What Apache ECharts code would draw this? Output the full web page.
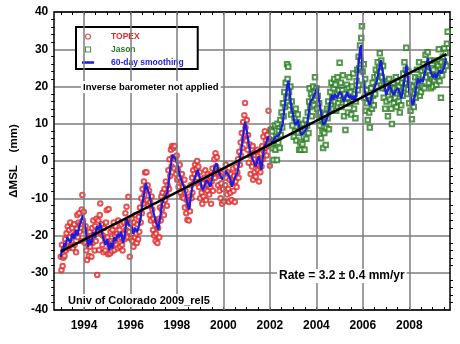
<!DOCTYPE html>
<html>
<head>
<meta charset="UTF-8">
<script src="https://cdn.jsdelivr.net/npm/echarts@6/dist/echarts.min.js"></script>
<title>Mean sea level</title>
<style type="text/css">
body{margin:0;padding:0;background:#fff;}
#chart{width:460px;height:344px;}
</style>
</head>
<body>
<div id="chart"></div>
<script type="text/javascript">
// TOPEX cycles [year, mm]
var topex = [
[1993.00,-25.7],[1993.03,-29.3],[1993.05,-22.5],[1993.08,-28.2],[1993.11,-26.0],[1993.14,-23.5],[1993.16,-25.5],[1993.19,-21.0],
[1993.22,-24.0],[1993.25,-19.4],[1993.27,-22.8],[1993.30,-17.6],[1993.33,-23.4],[1993.36,-18.5],[1993.38,-20.5],[1993.41,-16.5],
[1993.44,-23.0],[1993.47,-21.8],[1993.49,-18.0],[1993.52,-23.4],[1993.55,-20.0],[1993.58,-17.0],[1993.60,-22.5],[1993.63,-19.5],
[1993.66,-24.5],[1993.69,-18.2],[1993.71,-14.5],[1993.74,-20.5],[1993.77,-16.5],[1993.79,-14.0],[1993.82,-19.0],[1993.85,-17.0],
[1993.88,-21.5],[1993.90,-13.0],[1993.93,-9.1],[1993.96,-16.0],[1993.99,-13.6],[1994.02,-18.5],[1994.04,-22.0],[1994.07,-17.5],
[1994.10,-24.0],[1994.13,-26.6],[1994.15,-20.5],[1994.18,-22.5],[1994.21,-25.5],[1994.24,-19.0],[1994.26,-23.0],[1994.29,-21.5],
[1994.32,-25.7],[1994.35,-18.0],[1994.37,-22.0],[1994.40,-16.0],[1994.43,-20.0],[1994.46,-24.0],[1994.48,-17.5],[1994.51,-21.5],
[1994.54,-15.5],[1994.57,-30.6],[1994.59,-19.0],[1994.62,-16.0],[1994.65,-23.9],[1994.68,-14.5],[1994.70,-11.4],[1994.73,-19.5],
[1994.76,-17.0],[1994.79,-22.5],[1994.81,-20.0],[1994.84,-24.5],[1994.87,-18.0],[1994.90,-21.0],[1994.92,-24.0],[1994.95,-16.5],
[1994.98,-13.2],[1995.01,-20.5],[1995.04,-25.0],[1995.06,-12.9],[1995.09,-22.5],[1995.12,-24.8],[1995.14,-19.0],[1995.17,-21.5],
[1995.20,-24.2],[1995.23,-18.5],[1995.25,-22.0],[1995.28,-16.5],[1995.31,-23.9],[1995.34,-20.0],[1995.36,-17.5],[1995.39,-22.5],
[1995.42,-19.5],[1995.45,-23.4],[1995.47,-16.0],[1995.50,-21.0],[1995.53,-18.5],[1995.55,-23.0],[1995.58,-20.5],[1995.61,-17.0],
[1995.64,-22.5],[1995.66,-24.0],[1995.69,-19.5],[1995.72,-16.5],[1995.75,-21.0],[1995.78,-14.0],[1995.80,-18.5],[1995.83,-12.3],
[1995.86,-16.5],[1995.88,-20.5],[1995.91,-9.6],[1995.94,-19.0],[1995.97,-25.7],[1996.00,-17.0],[1996.02,-20.8],[1996.05,-15.5],
[1996.08,-21.5],[1996.11,-18.5],[1996.13,-23.0],[1996.16,-16.5],[1996.19,-20.5],[1996.22,-14.5],[1996.24,-19.5],[1996.27,-22.0],
[1996.30,-17.0],[1996.33,-21.0],[1996.36,-15.0],[1996.38,-19.0],[1996.41,-12.5],[1996.44,-16.5],[1996.47,-10.0],[1996.49,-14.0],
[1996.52,-7.5],[1996.55,-11.5],[1996.58,-5.5],[1996.60,-9.0],[1996.63,-3.1],[1996.66,-7.0],[1996.69,-3.0],[1996.72,-10.5],
[1996.74,-6.5],[1996.77,-12.0],[1996.80,-8.0],[1996.83,-14.5],[1996.85,-11.0],[1996.88,-16.0],[1996.91,-9.5],[1996.94,-13.0],
[1996.97,-18.5],[1996.99,-15.5],[1997.02,-20.0],[1997.05,-17.0],[1997.08,-21.5],[1997.10,-19.5],[1997.13,-16.0],[1997.16,-22.0],
[1997.19,-18.0],[1997.22,-15.5],[1997.24,-20.5],[1997.27,-12.5],[1997.30,-16.0],[1997.33,-9.5],[1997.35,-13.0],[1997.38,-8.5],
[1997.41,-11.5],[1997.44,-14.5],[1997.46,-7.5],[1997.49,-10.5],[1997.52,-5.5],[1997.55,-9.0],[1997.57,-12.0],[1997.60,-6.5],
[1997.63,-2.5],[1997.66,-7.5],[1997.68,0.5],[1997.71,-4.0],[1997.74,3.0],[1997.77,-1.5],[1997.79,4.0],[1997.82,1.0],
[1997.85,3.5],[1997.88,-2.0],[1997.90,4.0],[1997.93,0.5],[1997.96,-3.5],[1997.99,1.5],[1998.01,-5.0],[1998.04,-2.5],
[1998.07,-7.0],[1998.10,-4.5],[1998.12,-1.0],[1998.15,-8.5],[1998.18,-5.5],[1998.21,-3.5],[1998.23,-9.5],[1998.26,-7.0],
[1998.29,-10.0],[1998.32,-5.0],[1998.34,-12.5],[1998.37,-8.0],[1998.40,-14.0],[1998.43,-10.5],[1998.45,-15.8],[1998.48,-12.0],
[1998.51,-16.0],[1998.54,-9.5],[1998.56,-13.5],[1998.59,-6.5],[1998.62,-10.0],[1998.65,-4.5],[1998.67,-8.5],[1998.70,-2.5],
[1998.73,-6.0],[1998.76,-3.5],[1998.78,-1.0],[1998.81,-5.5],[1998.84,-2.0],[1998.87,0.0],[1998.89,-4.5],[1998.92,-1.5],
[1998.95,-7.0],[1998.98,-3.0],[1999.00,-10.0],[1999.03,-5.5],[1999.06,-8.5],[1999.09,-11.5],[1999.11,-6.0],[1999.14,-9.5],
[1999.17,-4.5],[1999.20,-7.5],[1999.22,-2.5],[1999.25,-10.5],[1999.28,-5.0],[1999.31,-8.0],[1999.33,-3.5],[1999.36,-6.5],
[1999.39,-9.0],[1999.42,-4.0],[1999.44,-7.0],[1999.47,-11.5],[1999.50,-5.5],[1999.53,-2.0],[1999.55,-8.0],[1999.58,-3.5],
[1999.61,0.5],[1999.64,-4.5],[1999.66,2.1],[1999.69,-1.5],[1999.72,1.0],[1999.75,-3.0],[1999.77,-6.5],[1999.80,-2.5],
[1999.83,-8.0],[1999.86,-4.0],[1999.88,-10.0],[1999.91,-6.0],[1999.94,-11.5],[1999.97,-3.0],[1999.99,-7.5],[2000.02,-10.9],
[2000.05,-2.5],[2000.08,-6.5],[2000.10,-1.0],[2000.13,-4.5],[2000.16,-9.0],[2000.19,-3.0],[2000.21,-7.5],[2000.24,-11.0],
[2000.27,-5.0],[2000.30,-8.5],[2000.32,-3.5],[2000.35,-10.5],[2000.38,-6.0],[2000.41,-2.0],[2000.43,-8.0],[2000.46,-4.0],
[2000.49,-11.0],[2000.52,-5.5],[2000.54,-1.5],[2000.57,-7.0],[2000.60,-3.0],[2000.63,0.5],[2000.65,-4.5],[2000.68,2.5],
[2000.71,-1.0],[2000.74,5.0],[2000.76,1.5],[2000.79,7.5],[2000.82,3.5],[2000.85,10.5],[2000.87,6.0],[2000.90,12.3],
[2000.93,15.6],[2000.95,9.0],[2000.98,5.5],[2001.01,11.0],[2001.04,3.0],[2001.06,7.0],[2001.09,-0.5],[2001.12,4.5],
[2001.15,1.5],[2001.17,-3.5],[2001.20,2.0],[2001.23,-1.5],[2001.26,4.0],[2001.28,-5.0],[2001.31,0.5],[2001.34,-3.0],
[2001.37,2.5],[2001.39,-4.2],[2001.42,-1.0],[2001.45,3.0],[2001.48,-2.5],[2001.50,1.5],[2001.53,-5.5],[2001.56,0.0],
[2001.59,-3.0],[2001.61,2.0],[2001.64,-1.5],[2001.67,4.0],[2001.70,0.5],[2001.72,6.5],[2001.75,2.5],[2001.78,8.0],
[2001.81,3.5],[2001.83,5.5],[2001.86,1.5],[2001.89,7.0],[2001.92,4.0],[2001.94,13.5],[2001.97,6.0],[2002.00,-1.3],
[2002.03,8.5]
];

// Jason cycles [year, mm]
var jason = [
[2002.05,8.3],[2002.08,4.3],[2002.10,7.9],[2002.13,3.4],[2002.16,0.3],[2002.19,5.6],[2002.22,9.5],[2002.24,3.0],
[2002.27,6.5],[2002.30,0.3],[2002.33,10.0],[2002.36,5.0],[2002.39,8.0],[2002.42,3.5],[2002.45,11.0],[2002.47,7.0],
[2002.50,13.0],[2002.53,9.0],[2002.56,15.5],[2002.59,12.0],[2002.62,18.5],[2002.65,14.5],[2002.68,21.0],[2002.71,17.0],
[2002.74,26.0],[2002.76,22.0],[2002.79,25.3],[2002.82,18.5],[2002.85,15.0],[2002.88,20.0],[2002.91,12.5],[2002.94,16.0],
[2002.97,9.5],[2003.00,13.5],[2003.03,6.5],[2003.06,11.5],[2003.08,8.0],[2003.11,14.0],[2003.14,5.5],[2003.17,10.5],
[2003.20,12.5],[2003.23,7.5],[2003.26,3.0],[2003.29,9.5],[2003.31,5.0],[2003.34,3.0],[2003.37,8.0],[2003.40,4.5],
[2003.43,10.0],[2003.46,6.5],[2003.49,3.0],[2003.51,8.5],[2003.54,11.0],[2003.57,6.0],[2003.60,9.5],[2003.63,13.0],
[2003.66,7.5],[2003.69,16.0],[2003.71,19.5],[2003.74,14.5],[2003.77,18.0],[2003.80,12.0],[2003.83,17.0],[2003.86,20.0],
[2003.89,15.0],[2003.92,18.5],[2003.94,22.5],[2003.97,16.5],[2004.00,19.5],[2004.03,14.0],[2004.06,17.5],[2004.09,12.5],
[2004.12,15.5],[2004.14,9.5],[2004.17,13.0],[2004.20,6.1],[2004.23,11.0],[2004.26,8.0],[2004.29,3.5],[2004.32,10.5],
[2004.34,7.5],[2004.37,12.5],[2004.40,4.3],[2004.43,9.0],[2004.46,14.0],[2004.48,11.5],[2004.51,16.0],[2004.54,8.5],
[2004.57,13.5],[2004.60,18.5],[2004.63,15.0],[2004.65,21.0],[2004.68,17.0],[2004.71,14.0],[2004.74,19.5],[2004.77,22.0],
[2004.80,16.0],[2004.82,20.5],[2004.85,13.5],[2004.88,18.0],[2004.91,22.5],[2004.94,15.5],[2004.97,19.0],[2005.00,26.4],
[2005.02,17.5],[2005.05,21.0],[2005.08,14.5],[2005.11,19.0],[2005.14,23.0],[2005.16,16.5],[2005.19,12.0],[2005.22,18.0],
[2005.25,8.3],[2005.28,15.5],[2005.31,20.5],[2005.34,17.0],[2005.36,13.0],[2005.39,19.5],[2005.42,22.5],[2005.45,15.5],
[2005.48,18.5],[2005.50,12.5],[2005.53,20.0],[2005.56,16.5],[2005.59,23.5],[2005.62,14.0],[2005.65,18.0],[2005.68,11.5],
[2005.70,16.0],[2005.73,21.5],[2005.76,24.5],[2005.79,19.0],[2005.82,28.0],[2005.85,25.0],[2005.88,31.0],[2005.90,27.0],
[2005.93,33.0],[2005.96,36.2],[2005.99,24.0],[2006.01,20.5],[2006.04,26.0],[2006.07,17.0],[2006.10,22.0],[2006.13,13.5],
[2006.16,19.0],[2006.18,15.5],[2006.21,11.0],[2006.24,17.5],[2006.27,13.0],[2006.30,9.0],[2006.33,16.0],[2006.36,19.5],
[2006.39,14.0],[2006.42,21.0],[2006.44,17.5],[2006.47,15.0],[2006.50,22.5],[2006.53,18.0],[2006.56,24.5],[2006.59,20.0],
[2006.62,23.0],[2006.64,26.5],[2006.67,21.5],[2006.70,25.0],[2006.73,28.9],[2006.76,24.0],[2006.79,27.0],[2006.82,22.5],
[2006.85,19.5],[2006.87,25.5],[2006.90,17.0],[2006.93,21.0],[2006.96,14.0],[2006.99,19.5],[2007.02,16.0],[2007.05,21.5],
[2007.08,12.0],[2007.10,18.5],[2007.13,22.0],[2007.16,16.5],[2007.19,20.0],[2007.22,14.0],[2007.25,9.9],[2007.28,18.0],
[2007.31,21.0],[2007.33,15.5],[2007.36,19.5],[2007.39,17.0],[2007.42,22.5],[2007.45,14.5],[2007.48,19.0],[2007.51,21.5],
[2007.54,16.0],[2007.56,20.0],[2007.59,13.0],[2007.62,18.0],[2007.65,15.0],[2007.68,21.0],[2007.71,17.5],[2007.74,23.5],
[2007.76,19.5],[2007.79,26.5],[2007.82,21.0],[2007.85,24.5],[2007.87,30.4],[2007.90,22.0],[2007.93,18.0],[2007.96,24.0],
[2007.99,15.5],[2008.02,20.5],[2008.05,13.5],[2008.08,18.5],[2008.11,11.2],[2008.13,16.0],[2008.16,20.0],[2008.19,14.5],
[2008.22,18.0],[2008.25,22.5],[2008.28,17.0],[2008.31,20.5],[2008.33,24.5],[2008.36,19.0],[2008.39,22.0],[2008.42,26.5],
[2008.45,17.5],[2008.48,21.5],[2008.50,18.5],[2008.53,24.0],[2008.56,20.0],[2008.59,23.0],[2008.62,26.0],[2008.65,19.5],
[2008.68,24.5],[2008.70,28.5],[2008.73,22.5],[2008.76,26.0],[2008.79,29.2],[2008.82,24.0],[2008.84,21.0],[2008.87,27.0],
[2008.90,23.0],[2008.93,19.5],[2008.96,25.0],[2008.99,22.0],[2009.02,20.0],[2009.04,24.5],[2009.07,21.5],[2009.10,27.0],
[2009.13,23.0],[2009.16,20.5],[2009.19,26.0],[2009.21,22.5],[2009.24,25.5],[2009.27,30.0],[2009.30,21.5],[2009.33,24.5],
[2009.36,17.0],[2009.39,26.5],[2009.41,23.0],[2009.44,28.0],[2009.47,24.5],[2009.50,30.2],[2009.53,26.0],[2009.56,29.0],
[2009.59,25.5],[2009.62,31.5],[2009.65,34.7]
];

// 60-day smoothed series [year, mm]
var smooth = [
[1993.00,-25.8],[1993.05,-23.5],[1993.10,-24.5],[1993.15,-22.0],[1993.20,-23.0],[1993.28,-20.5],[1993.36,-20.0],[1993.42,-22.0],
[1993.50,-19.5],[1993.58,-21.0],[1993.65,-18.5],[1993.72,-20.0],[1993.80,-17.5],[1993.88,-16.0],[1993.95,-14.5],[1994.00,-15.0],
[1994.06,-18.0],[1994.12,-20.5],[1994.18,-23.0],[1994.25,-21.0],[1994.32,-22.5],[1994.40,-19.0],[1994.48,-20.5],[1994.55,-17.5],
[1994.62,-18.5],[1994.70,-16.7],[1994.78,-19.5],[1994.85,-21.0],[1994.92,-22.5],[1995.00,-21.0],[1995.08,-24.0],[1995.15,-22.0],
[1995.22,-23.5],[1995.30,-20.5],[1995.38,-21.5],[1995.45,-19.5],[1995.52,-20.5],[1995.60,-19.0],[1995.68,-22.0],[1995.75,-20.0],
[1995.84,-15.5],[1995.92,-17.0],[1996.00,-16.7],[1996.05,-17.6],[1996.12,-19.5],[1996.20,-18.0],[1996.28,-19.0],[1996.36,-17.6],
[1996.42,-16.0],[1996.50,-12.0],[1996.58,-9.0],[1996.66,-6.0],[1996.72,-7.5],[1996.80,-8.5],[1996.88,-11.0],[1997.00,-14.0],
[1997.10,-16.5],[1997.20,-18.5],[1997.28,-15.0],[1997.36,-11.5],[1997.42,-10.5],[1997.50,-9.5],[1997.58,-8.6],[1997.66,-5.0],
[1997.74,-1.0],[1997.80,1.6],[1997.88,1.0],[1997.96,0.3],[1998.04,-1.5],[1998.10,-3.3],[1998.20,-5.5],[1998.30,-6.9],
[1998.38,-9.0],[1998.45,-11.5],[1998.52,-13.0],[1998.58,-10.5],[1998.66,-7.0],[1998.75,-5.0],[1998.82,-3.5],[1998.90,-2.4],
[1998.98,-4.5],[1999.06,-7.0],[1999.12,-7.8],[1999.20,-6.5],[1999.28,-5.0],[1999.36,-6.0],[1999.44,-6.9],[1999.52,-4.5],
[1999.60,-2.0],[1999.70,-0.6],[1999.78,-2.5],[1999.86,-4.0],[1999.97,-5.0],[2000.05,-3.5],[2000.12,-2.8],[2000.20,-2.4],
[2000.28,-4.5],[2000.36,-6.9],[2000.44,-5.5],[2000.52,-4.0],[2000.60,-3.2],[2000.68,-0.5],[2000.75,2.0],[2000.82,5.5],
[2000.88,8.5],[2000.93,10.5],[2001.00,8.3],[2001.08,5.0],[2001.15,2.5],[2001.22,1.2],[2001.30,-0.2],[2001.40,-1.5],
[2001.47,0.5],[2001.52,1.2],[2001.58,-0.5],[2001.63,-2.4],[2001.70,1.0],[2001.76,3.8],[2001.84,5.0],[2001.92,6.5],
[2002.00,5.5],[2002.08,4.8],[2002.16,5.5],[2002.24,6.5],[2002.32,6.0],[2002.40,7.0],[2002.48,7.5],[2002.55,10.0],
[2002.62,13.7],[2002.68,17.0],[2002.75,20.4],[2002.80,21.5],[2002.86,18.0],[2002.92,14.5],[2002.98,13.0],[2003.05,10.5],
[2003.12,9.7],[2003.20,11.0],[2003.27,9.0],[2003.35,7.0],[2003.42,7.5],[2003.50,8.0],[2003.58,8.9],[2003.66,12.5],
[2003.74,15.9],[2003.82,16.5],[2003.90,16.9],[2003.97,18.5],[2004.03,20.0],[2004.10,17.0],[2004.17,14.2],[2004.24,11.5],
[2004.30,9.7],[2004.38,10.5],[2004.46,11.5],[2004.54,13.5],[2004.60,16.0],[2004.67,17.7],[2004.74,16.5],[2004.80,18.0],
[2004.88,16.9],[2004.95,17.8],[2005.02,18.6],[2005.10,17.5],[2005.17,16.0],[2005.24,16.8],[2005.32,18.5],[2005.40,17.0],
[2005.47,17.7],[2005.54,16.5],[2005.61,17.5],[2005.67,15.9],[2005.73,19.5],[2005.78,23.5],[2005.83,27.0],[2005.88,30.0],
[2005.92,31.1],[2005.96,27.0],[2006.00,23.0],[2006.06,19.5],[2006.12,17.7],[2006.17,16.8],[2006.24,16.0],[2006.30,15.0],
[2006.37,17.0],[2006.44,18.6],[2006.52,20.0],[2006.60,21.3],[2006.68,24.0],[2006.74,26.0],[2006.78,27.1],[2006.83,25.0],
[2006.88,23.0],[2006.94,20.0],[2007.00,17.7],[2007.08,19.0],[2007.16,20.4],[2007.24,18.8],[2007.32,17.7],[2007.40,18.8],
[2007.52,19.5],[2007.60,18.0],[2007.66,16.8],[2007.74,19.5],[2007.82,23.5],[2007.88,25.8],[2007.94,22.0],[2008.00,18.6],
[2008.08,16.5],[2008.16,15.0],[2008.24,17.5],[2008.30,20.0],[2008.37,22.2],[2008.44,21.0],[2008.52,22.0],[2008.58,21.3],
[2008.66,23.5],[2008.74,26.0],[2008.80,27.6],[2008.87,25.0],[2008.94,23.5],[2009.02,22.5],[2009.10,23.5],[2009.16,22.2],
[2009.24,23.5],[2009.30,24.4],[2009.38,23.5],[2009.44,23.0],[2009.52,25.5],[2009.58,27.6]
];

// linear fit, 3.2 mm/yr
var trend = [[1993.0, -24.3], [2009.6, 28.7]];

var yearLabels = [1994, 1996, 1998, 2000, 2002, 2004, 2006, 2008];
var halfYears = [1993, 1993.5, 1994, 1994.5, 1995, 1995.5, 1996, 1996.5, 1997, 1997.5, 1998, 1998.5,
  1999, 1999.5, 2000, 2000.5, 2001, 2001.5, 2002, 2002.5, 2003, 2003.5, 2004, 2004.5, 2005, 2005.5,
  2006, 2006.5, 2007, 2007.5, 2008, 2008.5, 2009, 2009.5];

var FONT = 'Liberation Sans, Arial, sans-serif';
var xMin = 1992.72, xMax = 2009.75;
var RED = '#e02828', GREEN = '#2a7d22', BLUE = '#1c1ce0';
var circleIcon = 'path://M10,0A10,10,0,1,1,9.99,0Z';
var squareIcon = 'path://M0,0L20,0L20,20L0,20Z';
var barIcon = 'path://M0,0L48,0L48,10L0,10Z';

var myChart = echarts.init(document.getElementById('chart'));

var gridLines = yearLabels.map(function (y) { return { xAxis: y }; });

option = {
  animation: false,
  backgroundColor: '#fff',
  grid: { left: 52, top: 12, right: 10, bottom: 34 },
  legend: {
    left: 76, top: 27,
    orient: 'vertical',
    backgroundColor: '#fff',
    borderColor: '#000',
    borderWidth: 2,
    borderRadius: 0,
    padding: [5, 14, 2, 6],
    itemGap: 4,
    itemWidth: 12,
    itemHeight: 5,
    symbolKeepAspect: true,
    textStyle: { fontFamily: FONT, fontWeight: 'bold', fontSize: 8.5, padding: [0, 0, 0, 12] },
    data: [
      { name: 'TOPEX', icon: circleIcon, textStyle: { color: RED },
        itemStyle: { color: '#fff', borderColor: RED, borderWidth: 1.2 } },
      { name: 'Jason', icon: squareIcon, textStyle: { color: GREEN },
        itemStyle: { color: '#fff', borderColor: GREEN, borderWidth: 1.2 } },
      { name: '60-day smoothing', icon: barIcon, textStyle: { color: BLUE },
        itemStyle: { color: BLUE, borderWidth: 0 } }
    ]
  },
  graphic: [
    { type: 'text', left: 81, top: 81, z: 50,
      style: { text: 'Inverse barometer not applied', font: 'bold 9.5px ' + FONT, fill: '#000',
               backgroundColor: '#fff', padding: [1, 2] } },
    { type: 'text', left: 277, top: 269, z: 50,
      style: { text: 'Rate = 3.2 \u00b1 0.4 mm/yr', font: 'bold 12px ' + FONT, fill: '#000',
               backgroundColor: '#fff', padding: [1, 2] } },
    { type: 'text', left: 67, top: 294, z: 50,
      style: { text: 'Univ of Colorado 2009_rel5', font: 'bold 11px ' + FONT, fill: '#000',
               backgroundColor: '#fff', padding: [1, 1] } }
  ],
  xAxis: [
    {
      type: 'value', min: xMin, max: xMax, position: 'bottom',
      axisLine: { show: true, onZero: false, lineStyle: { color: '#000', width: 1.5 } },
      axisTick: { show: true, inside: true, length: 3, customValues: halfYears, lineStyle: { color: '#000' } },
      axisLabel: { customValues: yearLabels, margin: 10, color: '#000', fontFamily: FONT,
                   fontWeight: 'bold', fontSize: 12, formatter: function (v) { return String(Math.round(v)); } },
      splitLine: { show: false }
    },
    {
      type: 'value', min: xMin, max: xMax, position: 'top',
      axisLine: { show: true, onZero: false, lineStyle: { color: '#000', width: 1.5 } },
      axisTick: { show: true, inside: true, length: 3, customValues: halfYears, lineStyle: { color: '#000' } },
      axisLabel: { show: false },
      splitLine: { show: false }
    }
  ],
  yAxis: [
    {
      type: 'value', min: -40, max: 40, interval: 10, position: 'left',
      name: '\u0394MSL    (mm)', nameLocation: 'middle', nameGap: 34, nameRotate: 90,
      nameTextStyle: { color: '#000', fontFamily: FONT, fontWeight: 'bold', fontSize: 11.5 },
      axisLine: { show: true, onZero: false, lineStyle: { color: '#000', width: 1.5 } },
      axisTick: { show: false },
      minorTick: { show: true, splitNumber: 5, length: 3, lineStyle: { color: '#000' } },
      axisLabel: { margin: 6, color: '#000', fontFamily: FONT, fontWeight: 'bold', fontSize: 12 },
      splitLine: { show: true, lineStyle: { color: '#7d7d7d', width: 1.5 } }
    },
    {
      type: 'value', min: -40, max: 40, interval: 10, position: 'right',
      axisLine: { show: true, onZero: false, lineStyle: { color: '#000', width: 1.5 } },
      axisTick: { show: false },
      minorTick: { show: true, splitNumber: 5, length: 3, lineStyle: { color: '#000' } },
      axisLabel: { show: false },
      splitLine: { show: false }
    }
  ],
  series: [
    {
      name: 'grid', type: 'line', data: [[1993, 0]], symbol: 'none', silent: true, z: 0,
      lineStyle: { width: 0 },
      markLine: { silent: true, symbol: 'none', label: { show: false },
        lineStyle: { color: '#7d7d7d', width: 1.5, type: 'solid' }, data: gridLines }
    },
    {
      name: 'TOPEX', type: 'scatter', data: topex, symbol: 'emptyCircle', symbolSize: 4.5, z: 3,
      itemStyle: { color: RED, borderColor: RED, borderWidth: 1 }
    },
    {
      name: 'Jason', type: 'scatter', data: jason, symbol: 'emptyRect', symbolSize: 4.5, z: 3,
      itemStyle: { color: GREEN, borderColor: GREEN, borderWidth: 1 }
    },
    {
      name: '60-day smoothing', type: 'line', data: smooth, symbol: 'none', showSymbol: false, z: 4,
      itemStyle: { color: BLUE },
      lineStyle: { color: BLUE, width: 2.2 }
    },
    {
      name: 'trend', type: 'line', data: trend, symbol: 'none', z: 5,
      lineStyle: { color: '#000', width: 2.5 }
    }
  ]
};

myChart.setOption(option);
</script>
</body>
</html>
